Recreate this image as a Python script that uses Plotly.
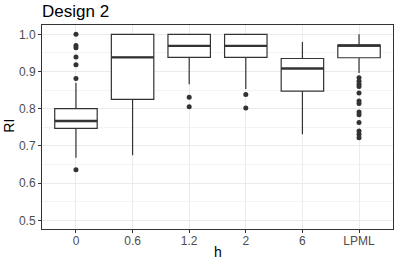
import plotly.graph_objects as go

categories = ["0", "0.6", "1.2", "2", "6", "LPML"]
q1 = [0.747, 0.825, 0.938, 0.938, 0.847, 0.937]
median = [0.767, 0.938, 0.969, 0.969, 0.908, 0.970]
q3 = [0.800, 1.000, 1.000, 1.000, 0.935, 0.971]
lower_whisker = [0.668, 0.675, 0.866, 0.853, 0.731, 0.896]
upper_whisker = [0.870, 1.000, 1.000, 1.000, 0.979, 1.000]
outliers = [
    [1.000, 0.970, 0.964, 0.939, 0.918, 0.881, 0.636],
    [],
    [0.831, 0.805],
    [0.838, 0.802],
    [],
    [0.883, 0.874, 0.866, 0.860, 0.842, 0.821, 0.814, 0.791, 0.784, 0.763, 0.740, 0.731, 0.722],
]
y_ticks = [0.5, 0.6, 0.7, 0.8, 0.9, 1.0]
y_tick_labels = ["0.5", "0.6", "0.7", "0.8", "0.9", "1.0"]
y_minor = [0.55, 0.65, 0.75, 0.85, 0.95]

pos = list(range(len(categories)))
box_w = 0.75
dark = "#333333"

fig = go.Figure()
fig.add_trace(go.Box(
    x=pos, q1=q1, median=median, q3=q3,
    lowerfence=lower_whisker, upperfence=upper_whisker,
    width=box_w, boxpoints=False, whiskerwidth=0,
    fillcolor="white", line=dict(color=dark, width=1.2),
    showlegend=False,
))
# thicker median lines (ggplot fatten)
for i, m in zip(pos, median):
    fig.add_trace(go.Scatter(
        x=[i - box_w / 2, i + box_w / 2], y=[m, m], mode="lines",
        line=dict(color=dark, width=2.4), showlegend=False, hoverinfo="skip",
    ))
ox, oy = [], []
for i, vals in zip(pos, outliers):
    ox += [i] * len(vals)
    oy += vals
fig.add_trace(go.Scatter(
    x=ox, y=oy, mode="markers",
    marker=dict(color=dark, size=5), showlegend=False,
))

fig.update_layout(
    width=399, height=266,
    margin=dict(l=42, r=6, t=25, b=37),
    paper_bgcolor="white", plot_bgcolor="white",
    font=dict(family="Liberation Sans, Arial, sans-serif", color="black"),
    title=dict(text="Design 2", x=0, xanchor="left", xref="paper",
               y=1 - 11.2 / 266, yanchor="middle", yref="container",
               font=dict(size=17, color="black")),
    xaxis=dict(
        range=[-0.6, 5.6], tickvals=pos, ticktext=categories,
        showgrid=True, gridcolor="#EBEBEB", gridwidth=1,
        zeroline=False, showline=True, linecolor=dark, linewidth=1, mirror=True,
        ticks="outside", ticklen=3, tickcolor=dark, tickwidth=1,
        tickfont=dict(size=12, color="#4D4D4D"), automargin=False,
        ticklabelstandoff=-2,
    ),
    yaxis=dict(
        range=[0.4766, 1.025], tickvals=y_ticks, ticktext=y_tick_labels,
        showgrid=True, gridcolor="#EBEBEB", gridwidth=1,
        minor=dict(tickvals=y_minor, showgrid=True,
                   gridcolor="#F4F4F4", gridwidth=1, ticks=""),
        zeroline=False, showline=True, linecolor=dark, linewidth=1, mirror=True,
        ticks="outside", ticklen=3, tickcolor=dark, tickwidth=1,
        tickfont=dict(size=12, color="#4D4D4D"), automargin=False,
    ),
    annotations=[
        dict(text="h", xref="paper", yref="paper", x=0.5, y=(229 - 252) / 204,
             xanchor="center", yanchor="middle", showarrow=False,
             font=dict(size=14, color="black")),
        dict(text="RI", xref="paper", yref="paper", x=(8.7 - 42) / 351.3,
             y=(229 - 126) / 204, xanchor="center", yanchor="middle",
             textangle=-90, showarrow=False, font=dict(size=14, color="black")),
    ],
)

fig.write_html("out.html", config={"displayModeBar": False},
               post_script="document.body.style.margin='0';document.body.style.overflow='hidden';")
